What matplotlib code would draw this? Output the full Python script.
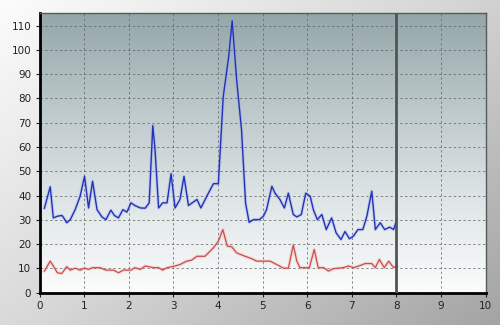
import numpy as np
import matplotlib
matplotlib.use("Agg")
import matplotlib.pyplot as plt
from matplotlib.colors import LinearSegmentedColormap

# blue series
blue_x = [0.11, 0.24, 0.31, 0.40, 0.50, 0.52, 0.61, 0.69, 0.80, 0.91, 1.01, 1.10, 1.19, 1.29,
          1.40, 1.49, 1.60, 1.68, 1.77, 1.87, 1.96, 2.05, 2.14, 2.26, 2.37, 2.46, 2.54, 2.59,
          2.67, 2.76, 2.86, 2.95, 3.04, 3.15, 3.24, 3.34, 3.53, 3.62, 3.75, 3.90, 4.01, 4.12,
          4.24, 4.32, 4.42, 4.53, 4.62, 4.70, 4.80, 4.93, 5.02, 5.09, 5.21, 5.28, 5.39, 5.49,
          5.58, 5.69, 5.77, 5.87, 5.97, 6.07, 6.14, 6.23, 6.33, 6.43, 6.55, 6.65, 6.76, 6.85,
          6.95, 7.04, 7.14, 7.25, 7.34, 7.45, 7.53, 7.64, 7.74, 7.85, 7.94, 8.01]
blue_y = [34.8, 43.6, 30.8, 31.5, 31.8, 31.5, 28.8, 30.1, 34.2, 39.7, 47.9, 34.9, 45.9, 34.2,
          31.2, 30.1, 34.0, 31.8, 30.8, 34.2, 33.2, 37.0, 35.9, 34.9, 34.8, 37.0, 68.8, 59.0,
          34.9, 37.0, 37.0, 49.0, 34.9, 38.4, 47.9, 35.9, 38.4, 34.9, 39.7, 44.9, 44.9, 80.8,
          97.0, 112.0, 87.7, 67.0, 37.0, 29.0, 30.1, 30.1, 31.5, 34.2, 43.8, 41.0, 38.4, 34.9,
          41.0, 32.2, 31.2, 32.2, 41.0, 39.7, 34.2, 30.1, 32.2, 26.0, 30.8, 24.7, 21.9, 25.2,
          22.2, 23.3, 26.0, 26.0, 31.5, 41.8, 26.0, 28.8, 26.0, 27.0, 26.0, 30.1]

# red series
red_x = [0.11, 0.24, 0.31, 0.40, 0.50, 0.61, 0.69, 0.80, 0.91, 1.01, 1.10, 1.19, 1.36, 1.49,
         1.66, 1.77, 1.88, 2.05, 2.14, 2.26, 2.37, 2.56, 2.67, 2.76, 2.86, 3.04, 3.15, 3.30,
         3.41, 3.53, 3.71, 3.90, 4.01, 4.11, 4.21, 4.31, 4.42, 4.61, 4.76, 4.87, 5.17, 5.32,
         5.47, 5.58, 5.69, 5.77, 5.84, 6.05, 6.16, 6.25, 6.37, 6.48, 6.59, 6.81, 6.93, 7.04,
         7.19, 7.30, 7.45, 7.53, 7.62, 7.73, 7.83, 7.94, 8.01]
red_y = [8.9, 13.0, 11.0, 8.2, 7.9, 10.7, 9.3, 10.1, 9.3, 10.1, 9.6, 10.3, 10.3, 9.3,
         9.3, 8.2, 9.3, 9.3, 10.3, 9.6, 11.0, 10.3, 10.3, 9.3, 10.3, 11.0, 11.6, 13.0,
         13.4, 15.0, 15.0, 18.5, 21.2, 26.0, 19.2, 18.9, 16.4, 15.0, 14.0, 13.0, 13.0, 11.6,
         10.1, 10.1, 19.6, 13.0, 10.3, 10.3, 17.8, 10.3, 10.3, 8.9, 9.9, 10.3, 11.0, 10.3,
         11.2, 12.0, 12.0, 10.3, 13.7, 10.3, 13.0, 10.3, 11.0]

marker_x = 8

fig = plt.figure(figsize=(5, 3.25), dpi=100)

# figure background gradient (light top-left, gray bottom-right)
bg = fig.add_axes([0, 0, 1, 1], zorder=-10)
gx, gy = np.meshgrid(np.linspace(0, 1, 200), np.linspace(0, 1, 130))
grad = 0.55 * gx + 0.45 * gy
bg_cmap = LinearSegmentedColormap.from_list("bg", ["#fcfcfc", "#d6d6d6", "#a4a4a4"])
bg.imshow(grad, cmap=bg_cmap, aspect="auto", extent=[0, 1, 0, 1], origin="upper")
bg.axis("off")

ax = fig.add_axes([0.079, 0.0994, 0.892, 0.8606])
plot_cmap = LinearSegmentedColormap.from_list(
    "plot", ["#fbfcfc", "#dfe5e6", "#bcc8ca", "#94a6a9"])
ax.imshow(np.linspace(0, 1, 256).reshape(-1, 1), cmap=plot_cmap, aspect="auto",
          extent=[0, 10, 0, 115.2], origin="lower", zorder=0)

ax.set_xlim(0, 10)
ax.set_ylim(0, 115.2)
ax.set_xticks(range(0, 11))
ax.set_yticks(range(0, 111, 10))
ax.grid(True, color="#5f6566", linestyle=(0, (2.5, 2.5)), linewidth=0.7, alpha=0.75, zorder=1)

ax.plot(blue_x, blue_y, color="#8c9cf0", linewidth=2.5, alpha=0.3, zorder=2)
ax.plot(blue_x, blue_y, color="#2232b8", linewidth=1.0, zorder=3)
ax.plot(red_x, red_y, color="#f0a0a0", linewidth=2.5, alpha=0.3, zorder=2)
ax.plot(red_x, red_y, color="#cc4c4c", linewidth=0.9, zorder=3)

ax.axvline(marker_x, color="#505556", linewidth=2, zorder=4)

for side in ["top", "right"]:
    ax.spines[side].set_color("#555a5b")
    ax.spines[side].set_linewidth(1)
for side in ["left", "bottom"]:
    ax.spines[side].set_color("black")
    ax.spines[side].set_linewidth(2)

ax.tick_params(labelsize=7.5, colors="#222222", length=3, width=0.8, pad=3)

fig.savefig("out.png", dpi=100)
